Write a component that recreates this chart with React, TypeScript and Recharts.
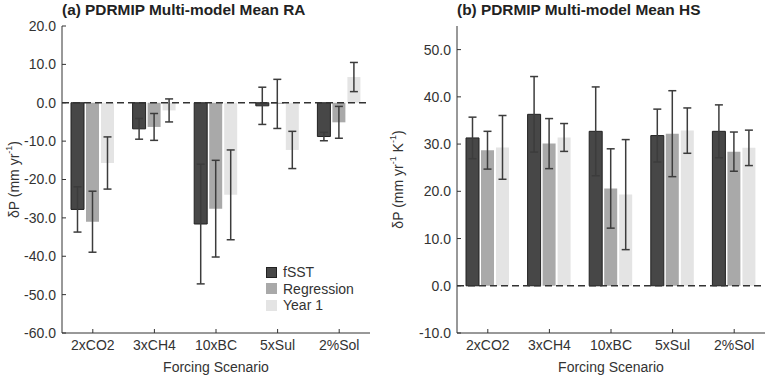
import React from 'react';
import { BarChart, Bar, XAxis, YAxis, ErrorBar, ReferenceLine, Legend } from 'recharts';

const scenarios = ['2xCO2', '3xCH4', '10xBC', '5xSul', '2%Sol'];

// (a) rapid adjustment, mm/yr
const raFsst = [-27.8, -6.8, -31.6, -0.8, -8.8];
const raFsstErr = [5.9, 2.7, 15.6, 4.85, 1.1];
const raRegression = [-31.0, -6.3, -27.6, -0.3, -5.1];
const raRegressionErr = [7.95, 3.5, 12.6, 6.4, 4.15];
const raYear1 = [-15.7, -2.0, -24.0, -12.3, 6.7];
const raYear1Err = [6.8, 3.0, 11.7, 4.85, 3.8];
const raTicks = [-60, -50, -40, -30, -20, -10, 0, 10, 20];

// (b) hydrological sensitivity, mm/yr/K
const hsFsst = [31.3, 36.3, 32.7, 31.8, 32.7];
const hsFsstErr = [4.4, 8.0, 9.4, 5.6, 5.6];
const hsRegression = [28.7, 30.1, 20.6, 32.2, 28.4];
const hsRegressionErr = [4.0, 5.3, 8.4, 9.1, 4.15];
const hsYear1 = [29.3, 31.4, 19.3, 32.85, 29.2];
const hsYear1Err = [6.75, 2.95, 11.65, 4.8, 3.75];
const hsTicks = [-10, 0, 10, 20, 30, 40, 50];

const seriesNames = ['fSST', 'Regression', 'Year 1'];
const COLORS = ['#474747', '#a9a9a9', '#e4e4e4'];

const FONT = '"Liberation Sans", Arial, sans-serif';
const INK = '#333';
const ERR = '#3c3c3c';

const buildRows = (a: number[], ae: number[], b: number[], be: number[], c: number[], ce: number[]) =>
  scenarios.map((name, i) => ({ name, fsst: a[i], fsstErr: ae[i], reg: b[i], regErr: be[i], y1: c[i], y1Err: ce[i] }));

const raData = buildRows(raFsst, raFsstErr, raRegression, raRegressionErr, raYear1, raYear1Err);
const hsData = buildRows(hsFsst, hsFsstErr, hsRegression, hsRegressionErr, hsYear1, hsYear1Err);

const tickStyle = { fontSize: 14, fill: INK, fontFamily: FONT };

function YLabel({ viewBox, withK }: any) {
  const cx = viewBox.x + 14;
  const cy = viewBox.y + viewBox.height / 2;
  return (
    <text x={cx} y={cy} transform={`rotate(-90 ${cx} ${cy})`} textAnchor="middle" dominantBaseline="central"
      style={{ fontSize: 14, fill: INK, fontFamily: FONT }}>
      δP (mm yr<tspan fontSize={9} dy={-5}>-1</tspan>
      {withK ? <><tspan dy={5}> K</tspan><tspan fontSize={9} dy={-5}>-1</tspan></> : null}
      <tspan dy={5}>)</tspan>
    </text>
  );
}

function LegendBox() {
  return (
    <div style={{ fontFamily: FONT, fontSize: 14, color: INK, lineHeight: '16.5px' }}>
      {seriesNames.map((n, i) => (
        <div key={n} style={{ display: 'flex', alignItems: 'center' }}>
          <span style={{
            display: 'inline-block', width: 11, height: 11, background: COLORS[i], marginRight: 6,
            boxSizing: 'border-box', border: i === 0 ? '1px solid #222' : 'none'
          }} />
          {n}
        </div>
      ))}
    </div>
  );
}

interface PanelProps {
  data: any[];
  domain: [number, number];
  ticks: number[];
  yWidth: number;
  rightMargin: number;
  withK?: boolean;
  showLegend?: boolean;
}

function Panel({ data, domain, ticks, yWidth, rightMargin, withK, showLegend }: PanelProps) {
  const keys = ['fsst', 'reg', 'y1'];
  return (
    <BarChart width={384} height={377} data={data} margin={{ top: 26, right: rightMargin, bottom: 0, left: 0 }}
      barSize={13} barGap={2}>
      <XAxis dataKey="name" height={44} tickSize={-4} tickMargin={11} stroke={INK} tick={tickStyle}
        label={{ value: 'Forcing Scenario', position: 'insideBottom', offset: 5, style: tickStyle }} />
      <XAxis dataKey="name" xAxisId="top" orientation="top" height={0} tickSize={-4} stroke={INK} tick={() => null} />
      <YAxis domain={domain} ticks={ticks} interval={0} allowDataOverflow width={yWidth} tickSize={-4} tickMargin={10}
        stroke={INK} tick={tickStyle} tickFormatter={(v: number) => v.toFixed(1)}
        label={(p: any) => <YLabel viewBox={p.viewBox} withK={withK} />} />
      <YAxis yAxisId="right" orientation="right" domain={domain} ticks={ticks} interval={0} width={0} tickSize={-4}
        stroke={INK} tick={() => null} />
      {keys.map((k, i) => (
        <Bar key={k} dataKey={k} name={seriesNames[i]} fill={COLORS[i]} isAnimationActive={false}
          stroke={i === 0 ? '#222' : 'none'} strokeWidth={1}>
          <ErrorBar dataKey={k + 'Err'} width={4} stroke={ERR} strokeWidth={1.5} direction="y" />
        </Bar>
      ))}
      <ReferenceLine y={0} stroke={INK} strokeDasharray="7 4" strokeWidth={1.3} />
      {showLegend && (
        <Legend layout="vertical" align="center" verticalAlign="middle" content={() => <LegendBox />}
          wrapperStyle={{ left: 266, top: 264, width: 'auto' }} />
      )}
    </BarChart>
  );
}

export default function App() {
  const titleStyle: React.CSSProperties = {
    position: 'absolute', top: 1, fontFamily: FONT, fontWeight: 'bold', fontSize: 15.4, color: '#222', whiteSpace: 'nowrap'
  };
  return (
    <div style={{ position: 'absolute', left: 0, top: 0, width: 768, height: 377, background: '#fff' }}>
      <div style={{ position: 'absolute', left: 0, top: 0 }}>
        <Panel data={raData} domain={[-60, 20]} ticks={raTicks} yWidth={62} rightMargin={14} showLegend />
      </div>
      <div style={{ position: 'absolute', left: 384, top: 0 }}>
        <Panel data={hsData} domain={[-10, 55]} ticks={hsTicks} yWidth={73} rightMargin={3} withK />
      </div>
      <div style={{ ...titleStyle, left: 62 }}>(a) PDRMIP Multi-model Mean RA</div>
      <div style={{ ...titleStyle, left: 457 }}>(b) PDRMIP Multi-model Mean HS</div>
    </div>
  );
}
